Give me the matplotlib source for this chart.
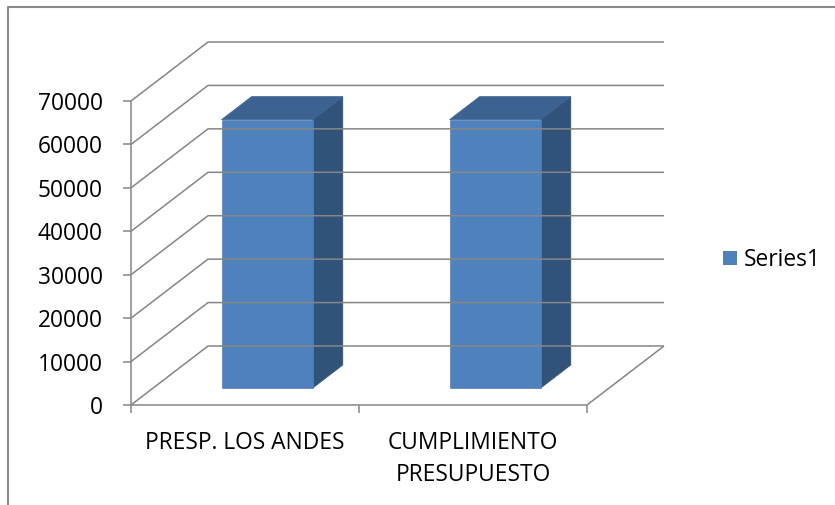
import matplotlib
matplotlib.use('Agg')
import matplotlib.pyplot as plt
from matplotlib.transforms import IdentityTransform
from matplotlib.patches import Rectangle, Polygon
from matplotlib.lines import Line2D

# ---- data ----
categories = ['PRESP. LOS ANDES', 'CUMPLIMIENTO\nPRESUPUESTO']
values = [61800, 61800]
series_name = 'Series1'
y_ticks = [0, 10000, 20000, 30000, 40000, 50000, 60000, 70000]
y_tick_labels = ['0', '10000', '20000', '30000', '40000', '50000', '60000', '70000']

# ---- style ----
FONT = 'Open Sans'
FS = 16.4
GRID = '#868686'
FRONT = '#4F81BD'
TOP = '#3B6291'
SIDE = '#325379'

W, H = 835, 506
fig = plt.figure(figsize=(W / 100, H / 100), dpi=100)
fig.patch.set_facecolor('white')
ax = fig.add_axes([131 / W, 100 / H, 456 / W, 304 / H])
ax.set_xlim(0, len(categories))
ax.set_ylim(0, 70000)
ax.axis('off')

DX, DY = 77.0, 59.0  # depth offset in pixels (full depth)


def P(x, v, d):
    p = ax.transData.transform((x, v))
    return (p[0] + DX * d, p[1] + DY * d)


def line(pts, **kw):
    xs = [p[0] for p in pts]
    ys = [p[1] for p in pts]
    ln = Line2D(xs, ys, transform=IdentityTransform(), color=GRID, lw=1.1,
                solid_capstyle='butt', clip_on=False, **kw)
    fig.add_artist(ln)


n = len(categories)
# walls / gridlines
for v in y_ticks:
    line([P(0, v, 0), P(0, v, 1), P(n, v, 1)])
    line([(P(0, v, 0)[0] - 8, P(0, v, 0)[1]), P(0, v, 0)])
# front vertical axis
line([P(0, 0, 0), P(0, y_ticks[-1], 0)])
# floor
line([P(0, 0, 0), P(n, 0, 0), P(n, 0, 1)])
for i in range(n + 1):
    p = P(i, 0, 0)
    line([p, (p[0], p[1] - 8)])

# bars
f0, f1 = 0.288, 0.678
bw = 0.4
for i, v in enumerate(values):
    x0 = i + 0.5 - bw / 2
    x1 = i + 0.5 + bw / 2
    side = [P(x1, 0, f0), P(x1, v, f0), P(x1, v, f1), P(x1, 0, f1)]
    top = [P(x0, v, f0), P(x1, v, f0), P(x1, v, f1), P(x0, v, f1)]
    front = [P(x0, 0, f0), P(x1, 0, f0), P(x1, v, f0), P(x0, v, f0)]
    for pts, col in ((side, SIDE), (top, TOP), (front, FRONT)):
        fig.add_artist(Polygon(pts, closed=True, transform=IdentityTransform(),
                               facecolor=col, edgecolor=col, lw=0.5))

# y tick labels
for v, lab in zip(y_ticks, y_tick_labels):
    p = P(0, v, 0)
    fig.text((p[0] - 28) / W, (p[1] - 2) / H, lab, ha='right', va='center',
             fontsize=FS, family=FONT, color='black')

# category labels (one text per line)
for i, lab in enumerate(categories):
    p = P(i + 0.5, 0, 0)
    for k, part in enumerate(lab.split('\n')):
        fig.text(p[0] / W, (p[1] - 43 - 32 * k) / H, part, ha='center', va='baseline',
                 fontsize=FS, family=FONT, color='black')

# legend
fig.add_artist(Rectangle((723 / W, (506 - 266) / H), 14 / W, 14 / H,
                         transform=fig.transFigure, facecolor=FRONT, edgecolor='none'))
fig.text(744 / W, (506 - 260) / H, series_name, ha='left', va='center',
         fontsize=FS, family=FONT, color='black')

# outer chart border (cropped)
fig.add_artist(Line2D([8 / W, 8 / W, 1.0], [0.0, 1 - 8 / H, 1 - 8 / H],
                      transform=fig.transFigure, color='#898989', lw=1.5))

fig.savefig('out.png', dpi=100)
